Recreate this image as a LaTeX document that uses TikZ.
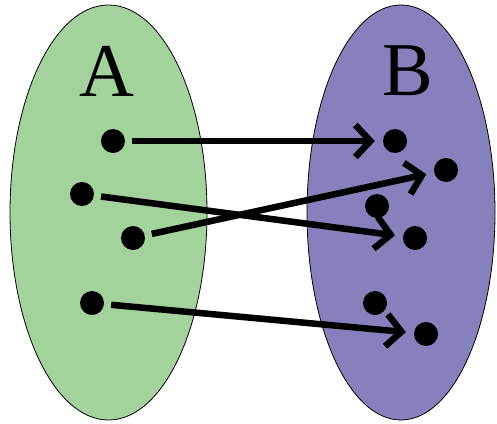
\documentclass[tikz,border=0pt]{standalone}
\usepackage{fontspec}
\setmainfont{Liberation Serif}
\usetikzlibrary{shapes.geometric, arrows.meta, positioning}
\definecolor{setGreen}{RGB}{164, 210, 156}
\definecolor{setPurple}{RGB}{134, 128, 189}

\begin{document}
\begin{tikzpicture}[
    x=1pt, y=-1pt,
    setbox/.style={ellipse, draw=black, line width=0.8pt, inner sep=0pt},
    elem/.style={circle, fill=black, minimum size=24pt, inner sep=0pt},
    setlabel/.style={font=\fontsize{76}{76}\selectfont},
    line/.style={draw=black, line width=6.5pt, shorten <=7pt, shorten >=8pt,
        -{Straight Barb[length=15pt, width=32pt]}}
]
    \useasboundingbox (0,0) rectangle (497,423);
    % Mengen
    \node (setA) [setbox, fill=setGreen, minimum width=197pt, minimum height=415pt] at (108.5,212.5) {};
    \node (setB) [setbox, fill=setPurple, minimum width=188pt, minimum height=415pt] at (401,212.5) {};
    \node (labA) [setlabel] at (107,71) {A};
    \node (labB) [setlabel] at (408,71) {B};

    % Elemente
    \node (a1) [elem] at (113,141) {};
    \node (a2) [elem] at (82,194) {};
    \node (a3) [elem] at (133,238) {};
    \node (a4) [elem] at (92,303) {};
    \node (b1) [elem] at (395,141) {};
    \node (b2) [elem] at (446,170) {};
    \node (b3) [elem] at (377,206) {};
    \node (b4) [elem] at (415,238) {};
    \node (b5) [elem] at (375,303) {};
    \node (b6) [elem] at (426,334) {};

    % Abbildung
    \path [line] (a1) -- (b1);
    \path [line] (a2) -- (b4);
    \path [line] (a3) -- (b2);
    \path [line] (a4) -- (b6);
\end{tikzpicture}
\end{document}
